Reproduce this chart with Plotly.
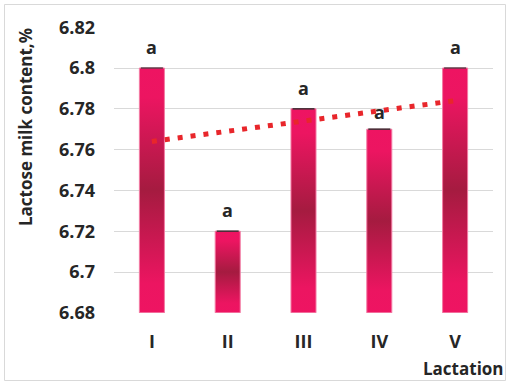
import plotly.graph_objects as go

# Lactose content by lactation number
lactations = ["I", "II", "III", "IV", "V"]
lactose = [6.80, 6.72, 6.78, 6.77, 6.80]
letters = ["a", "a", "a", "a", "a"]

Y_MIN, Y_MAX = 6.68, 6.82
HALF_W = 0.165          # half bar width in category units
LABEL_SHIFT = [21, 21, 21, 17, 21]
FONT = "Open Sans"
TXT = "#262626"

W, H = 506, 382
ML, MR, MT, MB = 114, 13, 27, 69

positions = list(range(1, len(lactations) + 1))

fig = go.Figure()

# Bars drawn as filled rectangles so each can carry a vertical gradient
pink_dark = [[0.0, "#EE1462"], [0.12, "#EC1561"], [0.5, "#A51B40"],
             [0.88, "#EC1561"], [1.0, "#EE1462"]]
for x, v in zip(positions, lactose):
    fig.add_trace(go.Scatter(
        x=[x - HALF_W, x + HALF_W, x + HALF_W, x - HALF_W, x - HALF_W],
        y=[Y_MIN, Y_MIN, v, v, Y_MIN],
        mode="lines", fill="toself",
        fillgradient=dict(type="vertical", colorscale=pink_dark),
        line=dict(color="#F37AA3", width=1),
        hoverinfo="skip", showlegend=False,
    ))

# Zero-length error caps at the bar tops
fig.add_trace(go.Scatter(
    x=positions, y=lactose, mode="markers",
    marker=dict(size=1, opacity=0),
    error_y=dict(type="data", array=[0] * len(lactose), width=11,
                 thickness=1.2, color="#1a1a1a"),
    hoverinfo="skip", showlegend=False,
))

# Linear trend over lactation number
n = len(lactose)
mx = sum(positions) / n
my = sum(lactose) / n
slope = sum((x - mx) * (y - my) for x, y in zip(positions, lactose)) / \
    sum((x - mx) ** 2 for x in positions)
intercept = my - slope * mx
trend_x = [positions[0], positions[-1]]
trend_y = [intercept + slope * x for x in trend_x]
fig.add_trace(go.Scatter(
    x=trend_x, y=trend_y, mode="lines",
    line=dict(color="#E8262B", width=5, dash="5px,8px"),
    hoverinfo="skip", showlegend=False,
))

# Significance letters above the bars
for x, v, t, s in zip(positions, lactose, letters, LABEL_SHIFT):
    fig.add_annotation(x=x, y=v, text=t, showarrow=False, yshift=s,
                       font=dict(family=FONT, size=18, color=TXT, weight="bold"))

pw = W - ML - MR
ph = H - MT - MB

def px_x(p):
    return (p - ML) / pw

def px_y(p):
    return (H - MB - p) / ph

fig.add_annotation(x=px_x(25), y=px_y(127), xref="paper", yref="paper",
                   xanchor="center", yanchor="middle",
                   text="Lactose milk content,%", textangle=-90, showarrow=False,
                   font=dict(family=FONT, size=17, color=TXT, weight="bold"))
fig.add_annotation(x=px_x(463), y=px_y(368), xref="paper", yref="paper",
                   xanchor="center", yanchor="middle",
                   text="Lactation", showarrow=False,
                   font=dict(family=FONT, size=17, color=TXT, weight="bold"))

# Outer frame
fig.add_shape(type="rect", xref="paper", yref="paper",
              x0=px_x(4.5), x1=px_x(505.5), y0=px_y(380.5), y1=px_y(4.5),
              line=dict(color="#D9D9D9", width=1), layer="below")

fig.update_layout(
    width=W, height=H,
    margin=dict(l=ML, r=MR, t=MT, b=MB),
    paper_bgcolor="white", plot_bgcolor="white",
    showlegend=False,
    xaxis=dict(range=[0.5, 5.5], tickvals=positions, ticktext=lactations,
               showgrid=False, zeroline=False, showline=False, ticks="",
               ticklabelstandoff=16,
               tickfont=dict(family=FONT, size=18, color=TXT, weight="bold")),
    yaxis=dict(range=[Y_MIN - 0.0001, Y_MAX + 0.0001], tick0=Y_MIN, dtick=0.02,
               tickformat="", showgrid=True, gridcolor="#D9D9D9", gridwidth=1,
               zeroline=False, showline=False, ticks="",
               ticklabelstandoff=18,
               tickfont=dict(family=FONT, size=18, color=TXT, weight="bold")),
)

fig.write_html("out.html")
